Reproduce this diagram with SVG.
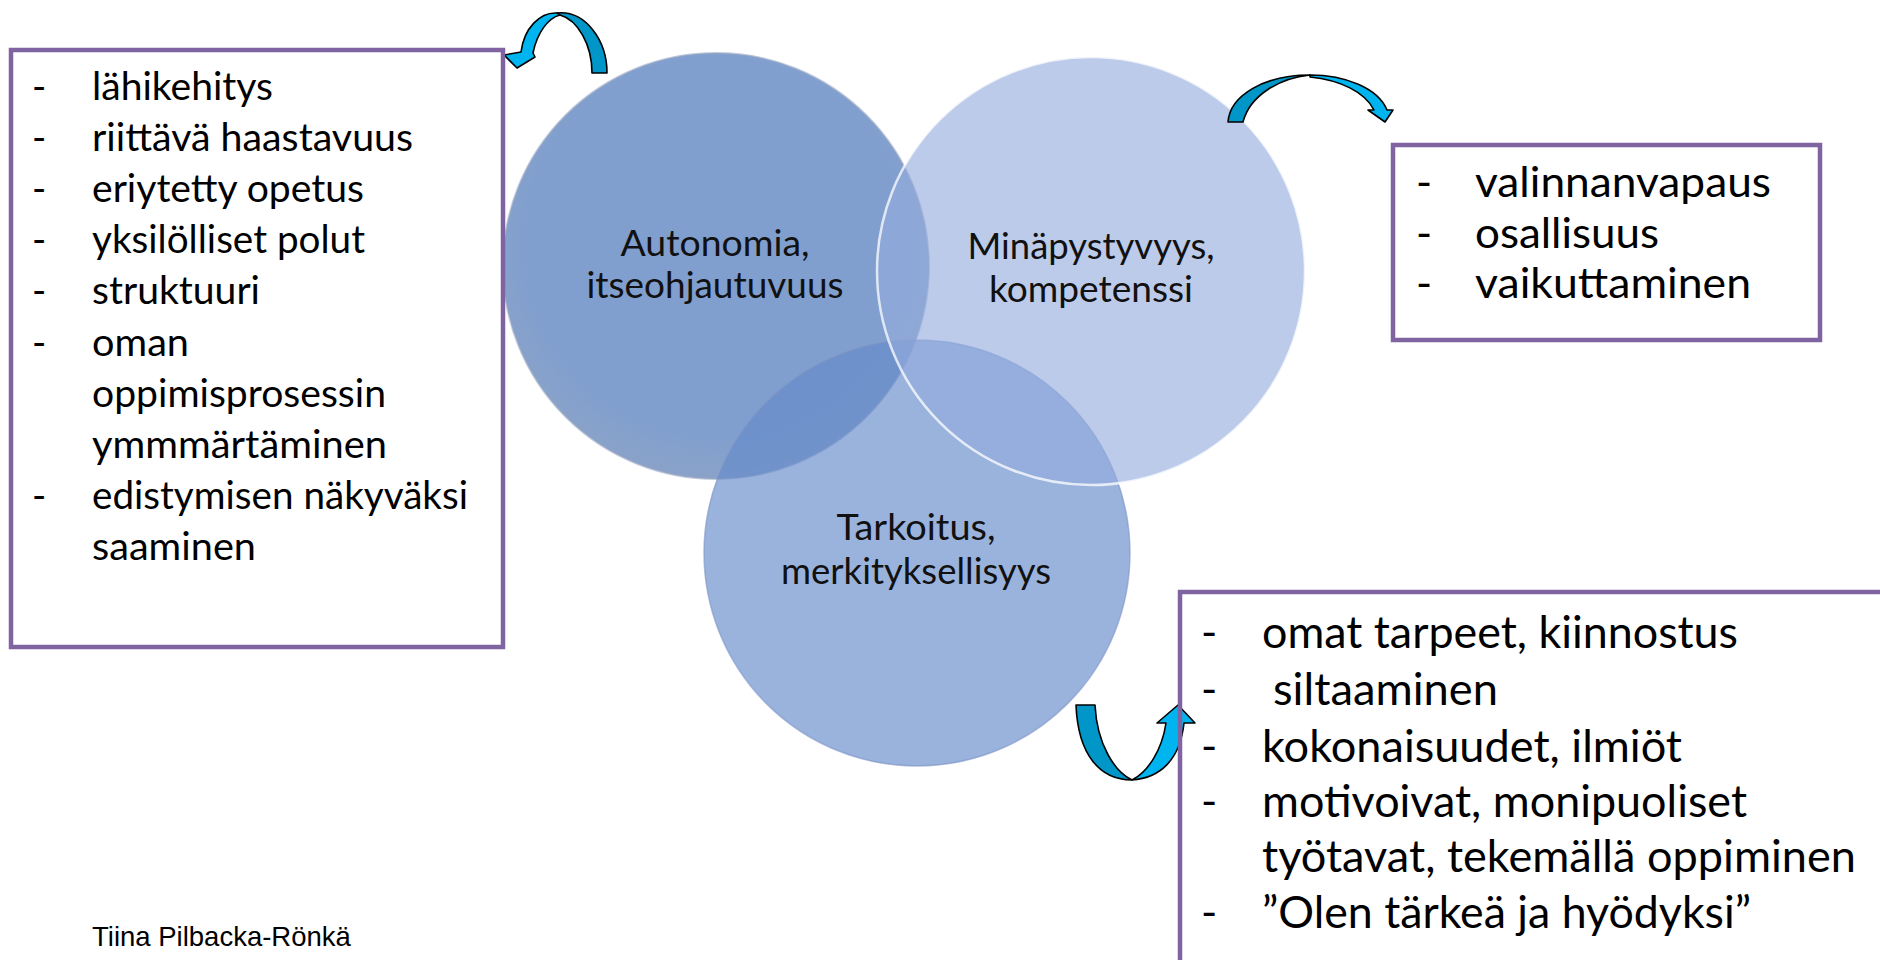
<svg xmlns="http://www.w3.org/2000/svg" width="1880" height="960" viewBox="0 0 1880 960">
  <style>
    .box { fill: none; stroke: #8064a2; stroke-width: 4.5; }
    .lt { font-family: Lato, "Open Sans", "Liberation Sans", sans-serif; font-size: 38.4px; fill: #000; }
    .rt { font-family: Lato, "Open Sans", "Liberation Sans", sans-serif; font-size: 43.3px; fill: #000; }
    .br { font-family: Lato, "Open Sans", "Liberation Sans", sans-serif; font-size: 43.8px; fill: #000; }
    .ct { font-family: Lato, "Open Sans", "Liberation Sans", sans-serif; font-size: 36.4px; fill: #111; text-anchor: middle; }
    .foot { font-family: "Liberation Sans", Arial, sans-serif; font-size: 27.5px; fill: #000; }
    .aL { fill: #00b4f0; stroke: #000; stroke-width: 1.6; stroke-linejoin: round; }
    .aD { fill: #0096c8; stroke: #000; stroke-width: 1.6; stroke-linejoin: round; }
  </style>
  <defs>
    <radialGradient id="g1" cx="0.5" cy="0.45" r="0.55">
      <stop offset="0.8" stop-color="#809fcf"/>
      <stop offset="1" stop-color="#8aa2c8"/>
    </radialGradient>
  </defs>
  <rect width="1880" height="960" fill="#fff"/>

  <g id="node-autonomia">
    <circle cx="716" cy="266" r="213" fill="url(#g1)" stroke="#9aa8c4" stroke-opacity="0.6" stroke-width="2"/>
  </g>
  <g id="node-tarkoitus">
    <circle cx="917" cy="553" r="213" fill="rgb(100,138,203)" fill-opacity="0.65" stroke="#7d93c4" stroke-opacity="0.6" stroke-width="1.5"/>
  </g>
  <g id="node-minapystyvyys">
    <circle cx="1091" cy="271" r="214" fill="rgb(148,172,221)" fill-opacity="0.625" stroke="#ffffff" stroke-opacity="0.75" stroke-width="2.5"/>
  </g>

  <g id="labels-circles">
    <text class="ct" x="715" y="256" textLength="189" lengthAdjust="spacingAndGlyphs">Autonomia,</text>
    <text class="ct" x="715" y="298" textLength="257" lengthAdjust="spacingAndGlyphs">itseohjautuvuus</text>
    <text class="ct" x="1091" y="259" textLength="247" lengthAdjust="spacingAndGlyphs">Minäpystyvyys,</text>
    <text class="ct" x="1091" y="302" textLength="204" lengthAdjust="spacingAndGlyphs">kompetenssi</text>
    <text class="ct" x="916" y="540" textLength="159" lengthAdjust="spacingAndGlyphs">Tarkoitus,</text>
    <text class="ct" x="916" y="584" textLength="270" lengthAdjust="spacingAndGlyphs">merkityksellisyys</text>
  </g>

  <g id="connectors">
    <g id="arrow-top-left">
      <path class="aD" d="M557,13 C585,10 607,40 607,73 L592,73 C592,45 578,20 560,15 Z"/>
      <path class="aL" d="M557,13 C540,12 524,28 521,52 L504,55 L517,68 L535,57 L533,53 C537,33 548,18 560,15 Z"/>
    </g>
    <g id="arrow-top-right">
      <path class="aD" d="M1228,122 C1230,95 1265,75 1310,75 C1280,78 1250,95 1243,122 Z"/>
      <path class="aL" d="M1310,75 C1345,75 1378,88 1387,110 L1393,110 L1385,122 L1368,110 L1374,110 C1365,92 1340,80 1310,77 Z"/>
    </g>
    <g id="arrow-bottom">
      <path class="aD" d="M1076,705 L1095,705 C1097,745 1115,772 1132,780 C1100,780 1078,755 1076,705 Z"/>
      <path class="aL" d="M1132,780 C1160,778 1180,760 1184,723 L1195,723 L1178,705 L1157,723 L1166,723 C1162,750 1148,772 1132,780 Z"/>
    </g>
  </g>

  <g id="box-left">
    <rect class="box" x="11" y="50" width="492" height="597"/>
    <text class="lt" x="32" y="100">-</text><text class="lt" x="92" y="100" textLength="181" lengthAdjust="spacingAndGlyphs">lähikehitys</text>
    <text class="lt" x="32" y="151">-</text><text class="lt" x="92" y="151" textLength="321" lengthAdjust="spacingAndGlyphs">riittävä haastavuus</text>
    <text class="lt" x="32" y="202">-</text><text class="lt" x="92" y="202" textLength="272" lengthAdjust="spacingAndGlyphs">eriytetty opetus</text>
    <text class="lt" x="32" y="253">-</text><text class="lt" x="92" y="253" textLength="273" lengthAdjust="spacingAndGlyphs">yksilölliset polut</text>
    <text class="lt" x="32" y="304">-</text><text class="lt" x="92" y="304" textLength="168" lengthAdjust="spacingAndGlyphs">struktuuri</text>
    <text class="lt" x="32" y="356">-</text><text class="lt" x="92" y="356" textLength="97" lengthAdjust="spacingAndGlyphs">oman</text>
    <text class="lt" x="92" y="407" textLength="294" lengthAdjust="spacingAndGlyphs">oppimisprosessin</text>
    <text class="lt" x="92" y="458" textLength="295" lengthAdjust="spacingAndGlyphs">ymmmärtäminen</text>
    <text class="lt" x="32" y="509">-</text><text class="lt" x="92" y="509" textLength="376" lengthAdjust="spacingAndGlyphs">edistymisen näkyväksi</text>
    <text class="lt" x="92" y="560" textLength="164" lengthAdjust="spacingAndGlyphs">saaminen</text>
  </g>

  <g id="box-right-top">
    <rect class="box" x="1393" y="145" width="427" height="195"/>
    <text class="rt" x="1416" y="197">-</text><text class="rt" x="1475" y="197" textLength="296" lengthAdjust="spacingAndGlyphs">valinnanvapaus</text>
    <text class="rt" x="1416" y="248">-</text><text class="rt" x="1475" y="248" textLength="184" lengthAdjust="spacingAndGlyphs">osallisuus</text>
    <text class="rt" x="1416" y="298">-</text><text class="rt" x="1475" y="298" textLength="276" lengthAdjust="spacingAndGlyphs">vaikuttaminen</text>
  </g>

  <g id="box-bottom-right">
    <rect class="box" x="1180" y="592" width="710" height="380"/>
    <text class="br" x="1201" y="648">-</text><text class="br" x="1262" y="648" textLength="476" lengthAdjust="spacingAndGlyphs">omat tarpeet, kiinnostus</text>
    <text class="br" x="1201" y="705">-</text><text class="br" x="1273" y="705" textLength="225" lengthAdjust="spacingAndGlyphs">siltaaminen</text>
    <text class="br" x="1201" y="762">-</text><text class="br" x="1262" y="762" textLength="420" lengthAdjust="spacingAndGlyphs">kokonaisuudet, ilmiöt</text>
    <text class="br" x="1201" y="817">-</text><text class="br" x="1262" y="817" textLength="485" lengthAdjust="spacingAndGlyphs">motivoivat, monipuoliset</text>
    <text class="br" x="1262" y="872" textLength="594" lengthAdjust="spacingAndGlyphs">työtavat, tekemällä oppiminen</text>
    <text class="br" x="1201" y="928">-</text><text class="br" x="1262" y="928" textLength="489" lengthAdjust="spacingAndGlyphs">”Olen tärkeä ja hyödyksi”</text>
  </g>

  <g id="footer">
    <text class="foot" x="92" y="946">Tiina Pilbacka-Rönkä</text>
  </g>
</svg>
